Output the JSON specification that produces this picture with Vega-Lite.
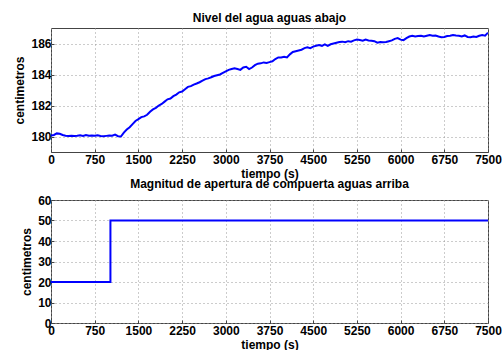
{
  "$schema": "https://vega.github.io/schema/vega-lite/v6.json",
  "padding": {"left": 13, "top": 11, "right": 0, "bottom": 0},
  "background": "white",
  "bounds": "flush",
  "spacing": 48,
  "datasets": {
    "nivel": [
      {"t":0,"h":180.06},{"t":50,"h":180.1},{"t":100,"h":180.2},{"t":150,"h":180.18},{"t":200,"h":180.1},{"t":250,"h":180.05},{"t":300,"h":180.04},{"t":350,"h":180.05},{"t":400,"h":180.03},{"t":450,"h":180.05},{"t":500,"h":180.08},{"t":550,"h":180.04},{"t":600,"h":180.1},{"t":650,"h":180.05},{"t":700,"h":180.06},{"t":750,"h":180.05},{"t":800,"h":180.08},{"t":850,"h":180.03},{"t":900,"h":180.02},{"t":950,"h":180.04},{"t":1000,"h":180.06},{"t":1050,"h":180.05},{"t":1100,"h":180.12},{"t":1150,"h":180.02},{"t":1200,"h":180.0},{"t":1250,"h":180.25},{"t":1300,"h":180.45},{"t":1350,"h":180.6},{"t":1400,"h":180.8},{"t":1450,"h":181.0},{"t":1500,"h":181.12},{"t":1550,"h":181.25},{"t":1600,"h":181.3},{"t":1650,"h":181.4},{"t":1700,"h":181.6},{"t":1750,"h":181.75},{"t":1800,"h":181.85},{"t":1850,"h":182.0},{"t":1900,"h":182.1},{"t":1950,"h":182.25},{"t":2000,"h":182.4},{"t":2050,"h":182.45},{"t":2100,"h":182.6},{"t":2150,"h":182.7},{"t":2200,"h":182.85},{"t":2250,"h":182.9},{"t":2300,"h":183.05},{"t":2350,"h":183.2},{"t":2400,"h":183.25},{"t":2450,"h":183.35},{"t":2500,"h":183.42},{"t":2550,"h":183.5},{"t":2600,"h":183.6},{"t":2650,"h":183.7},{"t":2700,"h":183.75},{"t":2750,"h":183.82},{"t":2800,"h":183.9},{"t":2850,"h":183.95},{"t":2900,"h":184.0},{"t":2950,"h":184.1},{"t":3000,"h":184.2},{"t":3050,"h":184.3},{"t":3100,"h":184.35},{"t":3150,"h":184.4},{"t":3200,"h":184.35},{"t":3250,"h":184.3},{"t":3300,"h":184.45},{"t":3350,"h":184.5},{"t":3400,"h":184.35},{"t":3450,"h":184.45},{"t":3500,"h":184.6},{"t":3550,"h":184.7},{"t":3600,"h":184.72},{"t":3650,"h":184.78},{"t":3700,"h":184.75},{"t":3750,"h":184.8},{"t":3800,"h":184.85},{"t":3850,"h":185.0},{"t":3900,"h":185.1},{"t":3950,"h":185.1},{"t":4000,"h":185.15},{"t":4050,"h":185.1},{"t":4100,"h":185.3},{"t":4150,"h":185.45},{"t":4200,"h":185.5},{"t":4250,"h":185.55},{"t":4300,"h":185.6},{"t":4350,"h":185.7},{"t":4400,"h":185.75},{"t":4450,"h":185.7},{"t":4500,"h":185.8},{"t":4550,"h":185.85},{"t":4600,"h":185.9},{"t":4650,"h":185.85},{"t":4700,"h":185.95},{"t":4750,"h":185.85},{"t":4800,"h":185.95},{"t":4850,"h":186.0},{"t":4900,"h":186.05},{"t":4950,"h":186.1},{"t":5000,"h":186.12},{"t":5050,"h":186.08},{"t":5100,"h":186.15},{"t":5150,"h":186.12},{"t":5200,"h":186.2},{"t":5250,"h":186.25},{"t":5300,"h":186.22},{"t":5350,"h":186.18},{"t":5400,"h":186.25},{"t":5450,"h":186.2},{"t":5500,"h":186.18},{"t":5550,"h":186.15},{"t":5600,"h":186.05},{"t":5650,"h":186.1},{"t":5700,"h":186.08},{"t":5750,"h":186.1},{"t":5800,"h":186.15},{"t":5850,"h":186.2},{"t":5900,"h":186.3},{"t":5950,"h":186.35},{"t":6000,"h":186.25},{"t":6050,"h":186.22},{"t":6100,"h":186.35},{"t":6150,"h":186.45},{"t":6200,"h":186.5},{"t":6250,"h":186.45},{"t":6300,"h":186.48},{"t":6350,"h":186.5},{"t":6400,"h":186.45},{"t":6450,"h":186.5},{"t":6500,"h":186.55},{"t":6550,"h":186.5},{"t":6600,"h":186.52},{"t":6650,"h":186.45},{"t":6700,"h":186.4},{"t":6750,"h":186.42},{"t":6800,"h":186.48},{"t":6850,"h":186.5},{"t":6900,"h":186.55},{"t":6950,"h":186.52},{"t":7000,"h":186.5},{"t":7050,"h":186.45},{"t":7100,"h":186.52},{"t":7150,"h":186.42},{"t":7200,"h":186.4},{"t":7250,"h":186.45},{"t":7300,"h":186.42},{"t":7350,"h":186.5},{"t":7400,"h":186.55},{"t":7450,"h":186.5},{"t":7500,"h":186.7}
    ],
    "apertura": [
      {"t":0,"a":20},{"t":1020,"a":50},{"t":7500,"a":50}
    ]
  },
  "vconcat": [
    {
      "width": 437,
      "height": 124,
      "title": "Nivel del agua aguas abajo",
      "data": {"name": "nivel"},
      "mark": {"type": "line", "color": "#0000ff", "strokeWidth": 2, "clip": true},
      "encoding": {
        "x": {"field": "t", "type": "quantitative", "title": "tiempo (s)",
              "scale": {"domain": [0, 7500], "nice": false},
              "axis": {"values": [0,750,1500,2250,3000,3750,4500,5250,6000,6750,7500], "format": "d"}},
        "y": {"field": "h", "type": "quantitative", "title": "centimetros",
              "scale": {"domain": [179, 187], "nice": false, "zero": false},
              "axis": {"values": [180,182,184,186]}}
      }
    },
    {
      "width": 437,
      "height": 123,
      "title": "Magnitud de apertura de compuerta aguas arriba",
      "data": {"name": "apertura"},
      "mark": {"type": "line", "color": "#0000ff", "strokeWidth": 2, "interpolate": "step-after", "clip": true},
      "encoding": {
        "x": {"field": "t", "type": "quantitative", "title": "tiempo (s)",
              "scale": {"domain": [0, 7500], "nice": false},
              "axis": {"values": [0,750,1500,2250,3000,3750,4500,5250,6000,6750,7500], "format": "d"}},
        "y": {"field": "a", "type": "quantitative", "title": "centimetros",
              "scale": {"domain": [0, 60], "nice": false},
              "axis": {"values": [0,10,20,30,40,50,60]}}
      }
    }
  ],
  "config": {
    "font": "Liberation Sans",
    "view": {"stroke": "#444444", "strokeWidth": 1},
    "title": {"fontSize": 12, "fontWeight": "bold", "font": "Liberation Sans", "color": "#000000", "offset": 3, "anchor": "middle"},
    "axis": {
      "grid": true,
      "gridDash": [1, 3],
      "gridColor": "#999999",
      "gridOpacity": 1,
      "domain": false,
      "ticks": true,
      "tickSize": -3,
      "tickColor": "#444444",
      "labelFlush": false,
      "labelOverlap": false,
      "labelFont": "Liberation Sans",
      "labelFontWeight": "bold",
      "labelFontSize": 12,
      "labelColor": "#000000",
      "labelPadding": 3,
      "titleFont": "Liberation Sans",
      "titleFontWeight": "bold",
      "titleFontSize": 12,
      "titleColor": "#000000",
      "titlePadding": 4
    },
    "axisX": {"labelPadding": 5, "titlePadding": 3}
  }
}
